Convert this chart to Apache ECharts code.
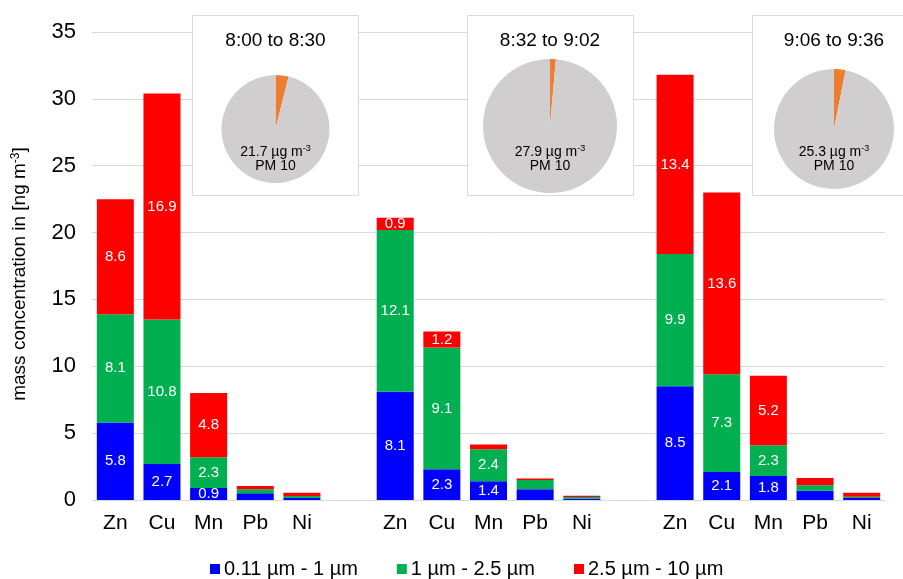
<!DOCTYPE html>
<html>
<head>
<meta charset="utf-8">
<script src="https://cdn.jsdelivr.net/npm/echarts@6/dist/echarts.min.js"></script>
<style>html,body{margin:0;padding:0;background:#fff}#c{width:903px;height:579px}</style>
</head>
<body>
<div id="c"></div>
<script>
const categories = ['Zn','Cu','Mn','Pb','Ni','','Zn','Cu','Mn','Pb','Ni',' ','Zn','Cu','Mn','Pb','Ni'];
const seriesNames = ['0.11 µm - 1 µm','1 µm - 2.5 µm','2.5 µm - 10 µm'];
const pm1   = [5.8, 2.7, 0.9, 0.5, 0.15, null, 8.1, 2.3, 1.4, 0.8, 0.1, null, 8.5, 2.1, 1.8, 0.7, 0.15];
const pm25  = [8.1, 10.8, 2.3, 0.3, 0.15, null, 12.1, 9.1, 2.4, 0.7, 0.12, null, 9.9, 7.3, 2.3, 0.4, 0.1];
const pm10  = [8.6, 16.9, 4.8, 0.25, 0.25, null, 0.9, 1.2, 0.35, 0.1, 0.1, null, 13.4, 13.6, 5.2, 0.55, 0.3];
const labelled = ['Zn','Cu','Mn'];
const yTicks = [0, 5, 10, 15, 20, 25, 30, 35];

const periods = ['8:00 to 8:30','8:32 to 9:02','9:06 to 9:36'];
const pmMass = ['21.7','27.9','25.3'];
const metalShare = [3.9, 1.4, 3.1];

const colors = ['#0000ff','#00b050','#ff0000'];

function items(arr){
  return arr.map((v,i)=>({
    value: v,
    label: {show: v != null && labelled.includes(categories[i]) && v >= 0.5}
  }));
}

const pieLayout = [
  {cx:275.5, cy:129, r:54, box:192.5},
  {cx:550, cy:126, r:67, box:467.5},
  {cx:834, cy:129, r:60, box:752.5}
];

const series = [pm1, pm25, pm10].map((arr, k) => ({
  name: seriesNames[k],
  type: 'bar',
  stack: 'total',
  barWidth: 37,
  itemStyle: {color: colors[k]},
  label: {position: 'inside', color: '#fff', fontSize: 15, fontFamily: 'Liberation Sans', formatter: p => p.value.toFixed(1)},
  emphasis: {disabled: true},
  data: items(arr)
}));

const graphics = [];
pieLayout.forEach((p, i) => {
  graphics.push({type:'rect', z: 1, silent: true, shape:{x:p.box, y:15.5, width:166, height:180}, style:{fill:'#fff', stroke:'#d9d9d9', lineWidth:1}});
  series.push({
    type: 'pie',
    z: 2,
    silent: true,
    center: [p.cx, p.cy],
    radius: [0, p.r],
    startAngle: 90,
    clockwise: true,
    label: {show:false},
    labelLine: {show:false},
    emphasis: {disabled:true},
    itemStyle: {borderWidth: 0},
    data: [
      {value: metalShare[i], itemStyle:{color:'#ed7d31'}},
      {value: 100 - metalShare[i], itemStyle:{color:'#d0cece'}}
    ]
  });
  graphics.push({type:'text', z: 5, silent:true, x:p.cx, y:41, style:{text: periods[i], textAlign:'center', textVerticalAlign:'middle', fontSize:19, fontFamily:'Liberation Sans', fill:'#000'}});
  graphics.push({type:'text', z: 5, silent:true, x:p.cx, y:152, style:{text: pmMass[i] + ' µg m{sup|-3}', textAlign:'center', textVerticalAlign:'middle', fontSize:14, fontFamily:'Liberation Sans', fill:'#000', rich:{sup:{fontSize:9, fontFamily:'Liberation Sans', verticalAlign:'top', padding:[0,0,7,0], fill:'#000'}}}});
  graphics.push({type:'text', z: 5, silent:true, x:p.cx, y:166, style:{text: 'PM 10', textAlign:'center', textVerticalAlign:'middle', fontSize:14, fontFamily:'Liberation Sans', fill:'#000'}});
});

const chart = echarts.init(document.getElementById('c'), null, {renderer:'canvas'});
chart.setOption({
  animation: false,
  textStyle: {fontFamily: 'Liberation Sans'},
  grid: {left: 92, right: 18, top: 32, bottom: 79, containLabel: false},
  legend: {
    left: 205, top: 554,
    itemWidth: 10, itemHeight: 10, itemGap: 39,
    icon: 'rect',
    textStyle: {fontSize: 20, color: '#000', fontFamily: 'Liberation Sans', padding: [0,0,0,-1]},
    data: seriesNames
  },
  xAxis: {
    type: 'category',
    data: categories,
    axisTick: {show: false},
    axisLine: {lineStyle: {color: '#d9d9d9', width: 1}},
    axisLabel: {interval: 0, fontSize: 21, color: '#000', margin: 13, fontFamily: 'Liberation Sans'}
  },
  yAxis: {
    type: 'value',
    min: yTicks[0], max: yTicks[yTicks.length-1], interval: yTicks[1]-yTicks[0],
    axisLine: {show: false},
    axisTick: {show: false},
    splitLine: {lineStyle: {color: '#d9d9d9', width: 1}},
    axisLabel: {fontSize: 22, color: '#000', margin: 16, fontFamily: 'Liberation Sans'},
    name: 'mass concentration in [ng m{sup|-3}]',
    nameLocation: 'middle',
    nameGap: 62,
    nameRotate: 90,
    nameTextStyle: {fontSize: 19, color: '#000', fontFamily: 'Liberation Sans', padding: [0,16,0,0],
      rich: {sup: {fontSize: 12, color:'#000', fontFamily:'Liberation Sans', verticalAlign: 'top', padding:[0,0,8,0]}}}
  },
  graphic: graphics,
  series: series
});
</script>
</body>
</html>
